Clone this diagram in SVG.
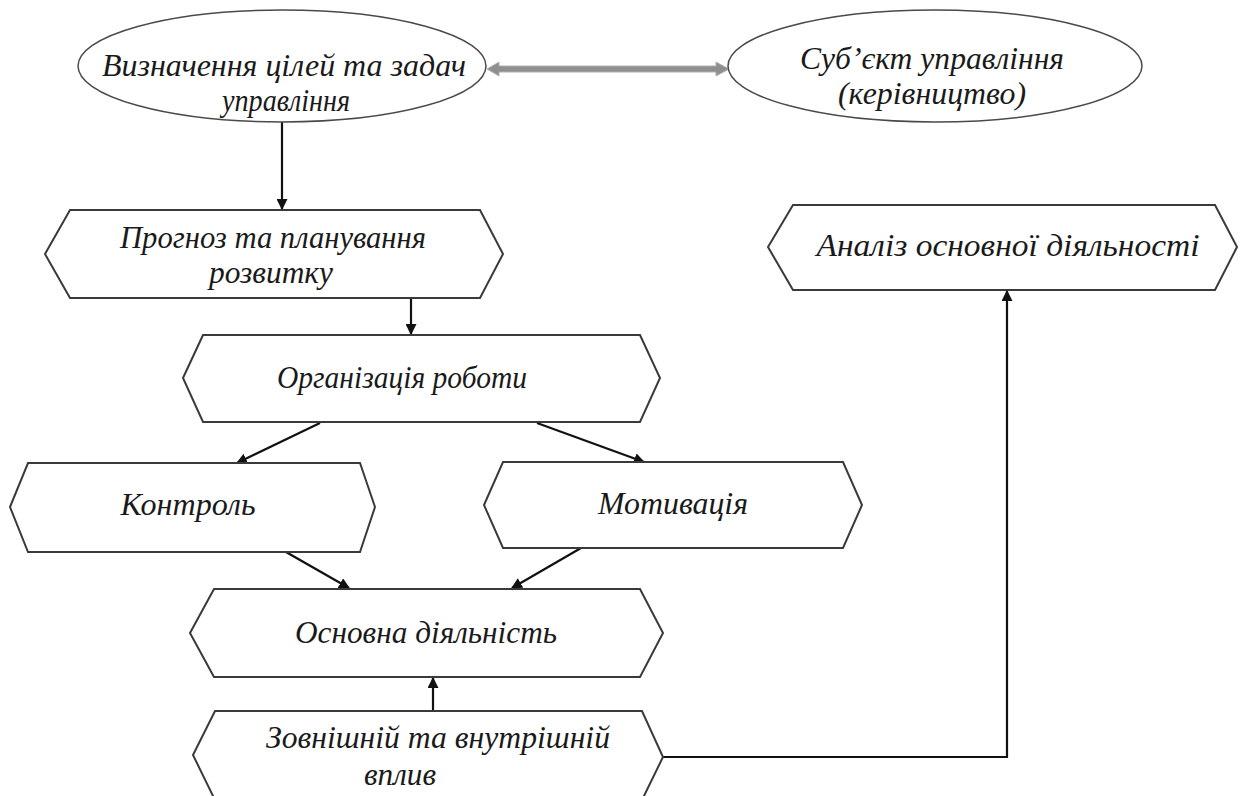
<svg xmlns="http://www.w3.org/2000/svg" width="1240" height="796" viewBox="0 0 1240 796">
<style>
.shape{fill:#fff;stroke:#3a3a3a;stroke-width:2}
.ell{fill:#fff;stroke:#4a4a4a;stroke-width:1.5}
.t{font-family:"Liberation Serif","Times New Roman",serif;font-style:italic;font-size:31px;fill:#1a1a1a}
.c{fill:none;stroke:#111;stroke-width:2.2}
</style>
<defs>
<marker id="ah" viewBox="0 0 10 10" refX="9" refY="5" markerWidth="5" markerHeight="5" orient="auto" markerUnits="strokeWidth">
<path d="M0,0 L10,5 L0,10 z" fill="#111"/>
</marker>
</defs>
<rect width="1240" height="796" fill="#fff"/>
<g id="connectors">
<polygon points="487,69 499,62 499,66 716,66 716,62 729,69 716,76 716,72 499,72 499,76" fill="#8f8f8f" stroke="#b0b0b0" stroke-width="1"/>
<line class="c" x1="282" y1="122" x2="282" y2="209" marker-end="url(#ah)"/>
<line class="c" x1="411" y1="298" x2="411" y2="334" marker-end="url(#ah)"/>
<line class="c" x1="320" y1="423" x2="237" y2="463" marker-end="url(#ah)"/>
<line class="c" x1="537" y1="423" x2="644" y2="462" marker-end="url(#ah)"/>
<line class="c" x1="286" y1="552" x2="349" y2="588" marker-end="url(#ah)"/>
<line class="c" x1="581" y1="548" x2="512" y2="588" marker-end="url(#ah)"/>
<line class="c" x1="433" y1="711" x2="433" y2="678" marker-end="url(#ah)"/>
<polyline class="c" points="663,757 1007,757 1007,291" marker-end="url(#ah)"/>
</g>
<g id="n1">
<ellipse class="ell" cx="282" cy="66" rx="204" ry="56"/>
<text class="t" x="284" y="76" text-anchor="middle" textLength="364" lengthAdjust="spacingAndGlyphs">Визначення цілей та задач</text>
<text class="t" x="286" y="111" text-anchor="middle" textLength="128" lengthAdjust="spacingAndGlyphs">управління</text>
</g>
<g id="n2">
<ellipse class="ell" cx="935" cy="66" rx="207" ry="56"/>
<text class="t" x="932" y="69" text-anchor="middle" textLength="264" lengthAdjust="spacingAndGlyphs">Суб’єкт управління</text>
<text class="t" x="932" y="104" text-anchor="middle" textLength="188" lengthAdjust="spacingAndGlyphs">(керівництво)</text>
</g>
<g id="n3">
<polygon class="shape" points="45,254 70,210 480,210 503,254 480,298 70,298"/>
<text class="t" x="273" y="248" text-anchor="middle" textLength="306" lengthAdjust="spacingAndGlyphs">Прогноз та планування</text>
<text class="t" x="271" y="283" text-anchor="middle" textLength="124" lengthAdjust="spacingAndGlyphs">розвитку</text>
</g>
<g id="n4">
<polygon class="shape" points="183,378 203,335 640,335 660,378 640,422 203,422"/>
<text class="t" x="402" y="388" text-anchor="middle" textLength="250" lengthAdjust="spacingAndGlyphs">Організація роботи</text>
</g>
<g id="n5">
<polygon class="shape" points="10,507 28,463 360,463 375,507 360,552 28,552"/>
<text class="t" x="188" y="515" text-anchor="middle" textLength="135" lengthAdjust="spacingAndGlyphs">Контроль</text>
</g>
<g id="n6">
<polygon class="shape" points="484,505 503,462 843,462 862,505 843,548 503,548"/>
<text class="t" x="673" y="514" text-anchor="middle" textLength="150" lengthAdjust="spacingAndGlyphs">Мотивація</text>
</g>
<g id="n7">
<polygon class="shape" points="190,633 214,589 640,589 663,633 640,677 214,677"/>
<text class="t" x="426" y="643" text-anchor="middle" textLength="262" lengthAdjust="spacingAndGlyphs">Основна діяльність</text>
</g>
<g id="n8">
<polygon class="shape" points="193,755 215,711 642,711 663,757 642,800 215,800"/>
<text class="t" x="438" y="748" text-anchor="middle" textLength="344" lengthAdjust="spacingAndGlyphs">Зовнішній та внутрішній</text>
<text class="t" x="400" y="785" text-anchor="middle" textLength="72" lengthAdjust="spacingAndGlyphs">вплив</text>
</g>
<g id="n9">
<polygon class="shape" points="768,247 793,205 1215,205 1237,247 1215,290 793,290"/>
<text class="t" x="1008" y="256" text-anchor="middle" textLength="383" lengthAdjust="spacingAndGlyphs">Аналіз основної діяльності</text>
</g>
</svg>
